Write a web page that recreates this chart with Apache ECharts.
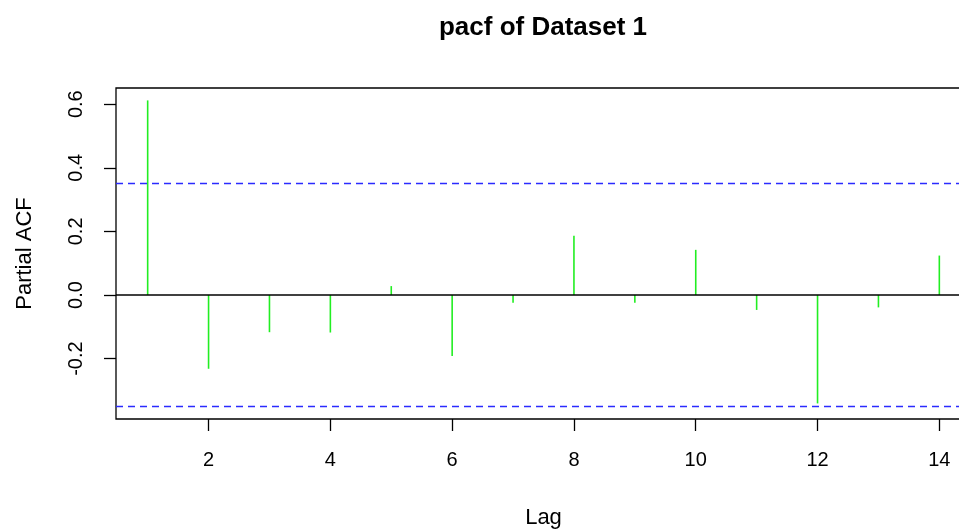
<!DOCTYPE html>
<html>
<head>
<meta charset="utf-8">
<title>pacf of Dataset 1</title>
<script src="https://cdn.jsdelivr.net/npm/echarts@6/dist/echarts.min.js"></script>
<style>
  html, body { margin: 0; padding: 0; background: #fff; }
  #chart { width: 959px; height: 529px; }
</style>
</head>
<body>
<div id="chart"></div>
<script>
// Partial autocorrelation by lag
const lags = [1, 2, 3, 4, 5, 6, 7, 8, 9, 10, 11, 12, 13, 14];
const pacfValues = [0.612, -0.232, -0.117, -0.118, 0.028, -0.192, -0.024, 0.186, -0.024, 0.142, -0.047, -0.341, -0.039, 0.124];

// 95% significance bound (1.96 / sqrt(n))
const ciBound = 0.352;

// Axis tick positions
const xTicks = [2, 4, 6, 8, 10, 12, 14];
const yTicks = [-0.2, 0.0, 0.2, 0.4, 0.6];

const FONT = '"Liberation Sans", Arial, sans-serif';

const chart = echarts.init(document.getElementById('chart'), null, { renderer: 'canvas' });

const spikeData = lags.map((lag, i) => [lag, pacfValues[i]]);

chart.setOption({
  animation: false,
  backgroundColor: '#ffffff',
  title: {
    text: 'pacf of Dataset 1',
    left: 538,
    top: 10,
    textAlign: 'center',
    textStyle: { fontFamily: FONT, fontSize: 26, fontWeight: 'bold', color: '#000' }
  },
  // plot box runs past the right edge of the canvas
  grid: {
    left: 116,
    top: 88,
    width: 855,
    height: 331,
    outerBoundsMode: 'none',
    containLabel: false,
    show: true,
    borderColor: '#000',
    borderWidth: 1.3,
    backgroundColor: 'transparent'
  },
  xAxis: {
    type: 'value',
    min: 0.48,
    max: 14.52,
    name: 'Lag',
    nameLocation: 'middle',
    nameGap: 88,
    nameTextStyle: { fontFamily: FONT, fontSize: 22, color: '#000' },
    axisLine: { show: false, onZero: false },
    splitLine: { show: false },
    axisTick: {
      show: true,
      length: 12,
      customValues: xTicks,
      lineStyle: { color: '#000', width: 1.3 }
    },
    axisLabel: {
      show: true,
      customValues: xTicks,
      margin: 31,
      fontFamily: FONT,
      fontSize: 20,
      color: '#000'
    }
  },
  yAxis: {
    type: 'value',
    min: -0.39,
    max: 0.651,
    name: 'Partial ACF',
    nameLocation: 'middle',
    nameRotate: 90,
    nameGap: 80,
    nameTextStyle: { fontFamily: FONT, fontSize: 22, color: '#000' },
    axisLine: { show: false, onZero: false },
    splitLine: { show: false },
    axisTick: {
      show: true,
      length: 12,
      customValues: yTicks,
      lineStyle: { color: '#000', width: 1.3 }
    },
    axisLabel: {
      show: true,
      customValues: yTicks,
      rotate: 90,
      margin: 30,
      fontFamily: FONT,
      fontSize: 20,
      color: '#000',
      formatter: v => v.toFixed(1)
    }
  },
  series: [
    {
      type: 'custom',
      name: 'PACF',
      data: spikeData,
      renderItem: function (params, api) {
        const p0 = api.coord([api.value(0), 0]);
        const p1 = api.coord([api.value(0), api.value(1)]);
        return {
          type: 'line',
          shape: { x1: p0[0], y1: p0[1], x2: p1[0], y2: p1[1] },
          style: { stroke: '#22ee22', lineWidth: 1.6 }
        };
      },
      markLine: {
        silent: true,
        symbol: 'none',
        label: { show: false },
        data: [
          { yAxis: 0, lineStyle: { color: '#000', type: 'solid', width: 1.5 } },
          { yAxis: ciBound, lineStyle: { color: '#2b2bff', type: [7, 5], width: 1.4 } },
          { yAxis: -ciBound, lineStyle: { color: '#2b2bff', type: [7, 5], width: 1.4 } }
        ]
      }
    }
  ]
});
</script>
</body>
</html>
